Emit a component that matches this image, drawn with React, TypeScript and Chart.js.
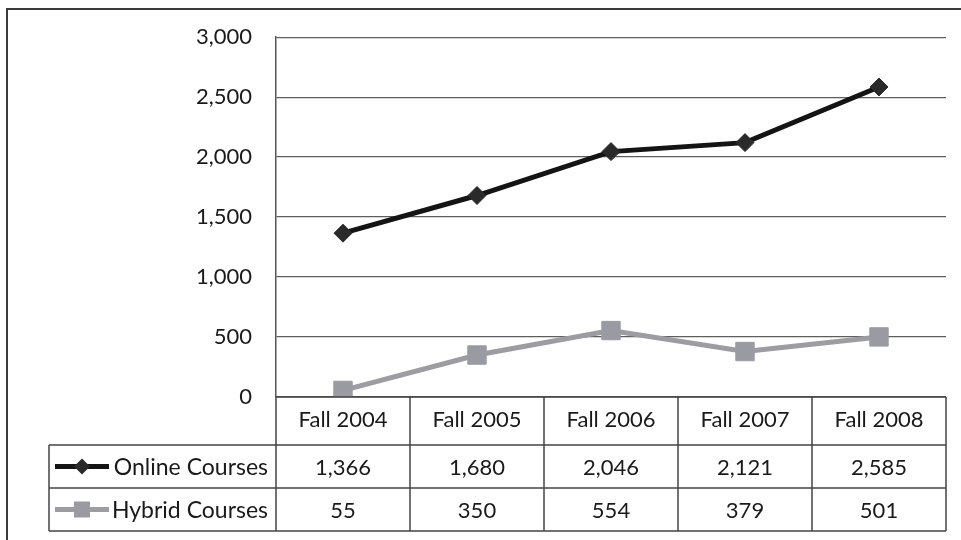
import React, { useEffect, useRef } from "react";
import { Chart, registerables } from "chart.js";

Chart.register(...registerables);

const categories = ["Fall 2004", "Fall 2005", "Fall 2006", "Fall 2007", "Fall 2008"];
const onlineCourses = [1366, 1680, 2046, 2121, 2585];
const hybridCourses = [55, 350, 554, 379, 501];
const seriesNames = ["Online Courses", "Hybrid Courses"];

const FONT = "Lato, 'Open Sans', sans-serif";
const fmt = (v: number) => v.toLocaleString("en-US");

const tablePlugin = {
  id: "dataTable",
  afterDraw(chart: any) {
    const { ctx, chartArea } = chart;
    const xs = chart.scales.x;
    const n = categories.length;
    const step = xs.getPixelForValue(1) - xs.getPixelForValue(0);
    const left = xs.getPixelForValue(0) - step / 2;
    const right = xs.getPixelForValue(n - 1) + step / 2;
    const top = chartArea.bottom;
    const headerBottom = top + 48;
    const rowH = 43;
    const bottom = headerBottom + rowH * 2;
    const tableLeft = 49;

    ctx.save();
    // outer frame (top and left edges)
    ctx.strokeStyle = "#3a3a3a";
    ctx.lineWidth = 2;
    ctx.beginPath();
    ctx.moveTo(7, 560);
    ctx.lineTo(7, 9);
    ctx.lineTo(970, 9);
    ctx.stroke();

    // table lines
    ctx.strokeStyle = "#444";
    ctx.lineWidth = 1.5;
    ctx.beginPath();
    ctx.moveTo(left, top);
    ctx.lineTo(right, top);
    for (let r = 0; r <= 2; r++) {
      const y = headerBottom + r * rowH;
      ctx.moveTo(tableLeft, y);
      ctx.lineTo(right, y);
    }
    for (let i = 0; i <= n; i++) {
      const x = left + i * step;
      ctx.moveTo(x, top);
      ctx.lineTo(x, bottom);
    }
    ctx.moveTo(tableLeft, headerBottom);
    ctx.lineTo(tableLeft, bottom);
    ctx.stroke();

    // values
    ctx.fillStyle = "#1a1a1a";
    ctx.font = `22px ${FONT}`;
    ctx.textAlign = "center";
    ctx.textBaseline = "middle";
    const rows = [onlineCourses, hybridCourses];
    rows.forEach((vals, r) => {
      const cy = headerBottom + r * rowH + rowH / 2 + 1;
      vals.forEach((v, i) => {
        ctx.fillText(fmt(v), xs.getPixelForValue(i), cy);
      });
    });

    // row labels with legend keys
    chart.data.datasets.forEach((ds: any, r: number) => {
      const cy = headerBottom + r * rowH + rowH / 2;
      ctx.textAlign = "right";
      ctx.fillStyle = "#1a1a1a";
      ctx.font = `23px ${FONT}`;
      ctx.fillText(seriesNames[r], left - 8, cy + 1);
      ctx.strokeStyle = ds.borderColor;
      ctx.lineWidth = ds.borderWidth;
      ctx.beginPath();
      ctx.moveTo(55, cy);
      ctx.lineTo(109, cy);
      ctx.stroke();
      ctx.fillStyle = ds.pointBackgroundColor;
      ctx.beginPath();
      if (r === 0) {
        const s = 8;
        ctx.moveTo(82, cy - s);
        ctx.lineTo(82 + s, cy);
        ctx.lineTo(82, cy + s);
        ctx.lineTo(82 - s, cy);
        ctx.closePath();
      } else {
        const s = 8;
        ctx.rect(82 - s, cy - s, 2 * s, 2 * s);
      }
      ctx.fill();
    });
    ctx.restore();
  },
};

export default function App() {
  const ref = useRef<HTMLCanvasElement>(null);
  useEffect(() => {
    if (!ref.current) return;
    const chart = new Chart(ref.current, {
      type: "line",
      data: {
        labels: categories,
        datasets: [
          {
            label: seriesNames[0],
            data: onlineCourses,
            borderColor: "#141414",
            borderWidth: 5,
            pointStyle: "rectRot",
            pointRadius: 9,
            pointBackgroundColor: "#2a2a2a",
            pointBorderColor: "#2a2a2a",
            pointBorderWidth: 1,
          },
          {
            label: seriesNames[1],
            data: hybridCourses,
            borderColor: "#9c9ca2",
            borderWidth: 5,
            pointStyle: "rect",
            pointRadius: 13,
            pointBackgroundColor: "#9a9aa2",
            pointBorderColor: "#9a9aa2",
            pointBorderWidth: 1,
          },
        ],
      },
      options: {
        responsive: false,
        animation: false,
        layout: { padding: { left: 0, right: 15, top: 37, bottom: 95 } },
        plugins: { legend: { display: false }, tooltip: { enabled: false } },
        scales: {
          x: {
            offset: true,
            grid: { display: false, drawTicks: false },
            border: { display: false },
            ticks: {
              color: "#1a1a1a",
              font: { family: FONT, size: 22 },
              padding: 10,
              maxRotation: 0,
            },
            afterFit: (s: any) => {
              s.height = 48;
            },
          },
          y: {
            min: 0,
            max: 3000,
            grid: { color: "#5e5e5e", lineWidth: 1.3, drawTicks: false },
            border: { color: "#555", width: 1.5 },
            ticks: {
              stepSize: 500,
              color: "#1a1a1a",
              font: { family: FONT, size: 22 },
              padding: 24,
              callback: (v: any) => fmt(Number(v)),
            },
            afterFit: (s: any) => {
              s.width = 276;
            },
          },
        },
      },
      plugins: [tablePlugin],
    });
    return () => chart.destroy();
  }, []);
  return (
    <div style={{ position: "absolute", left: 0, top: 0, width: 961, height: 540, background: "#fff" }}>
      <canvas ref={ref} width={961} height={540} style={{ display: "block" }} />
    </div>
  );
}
